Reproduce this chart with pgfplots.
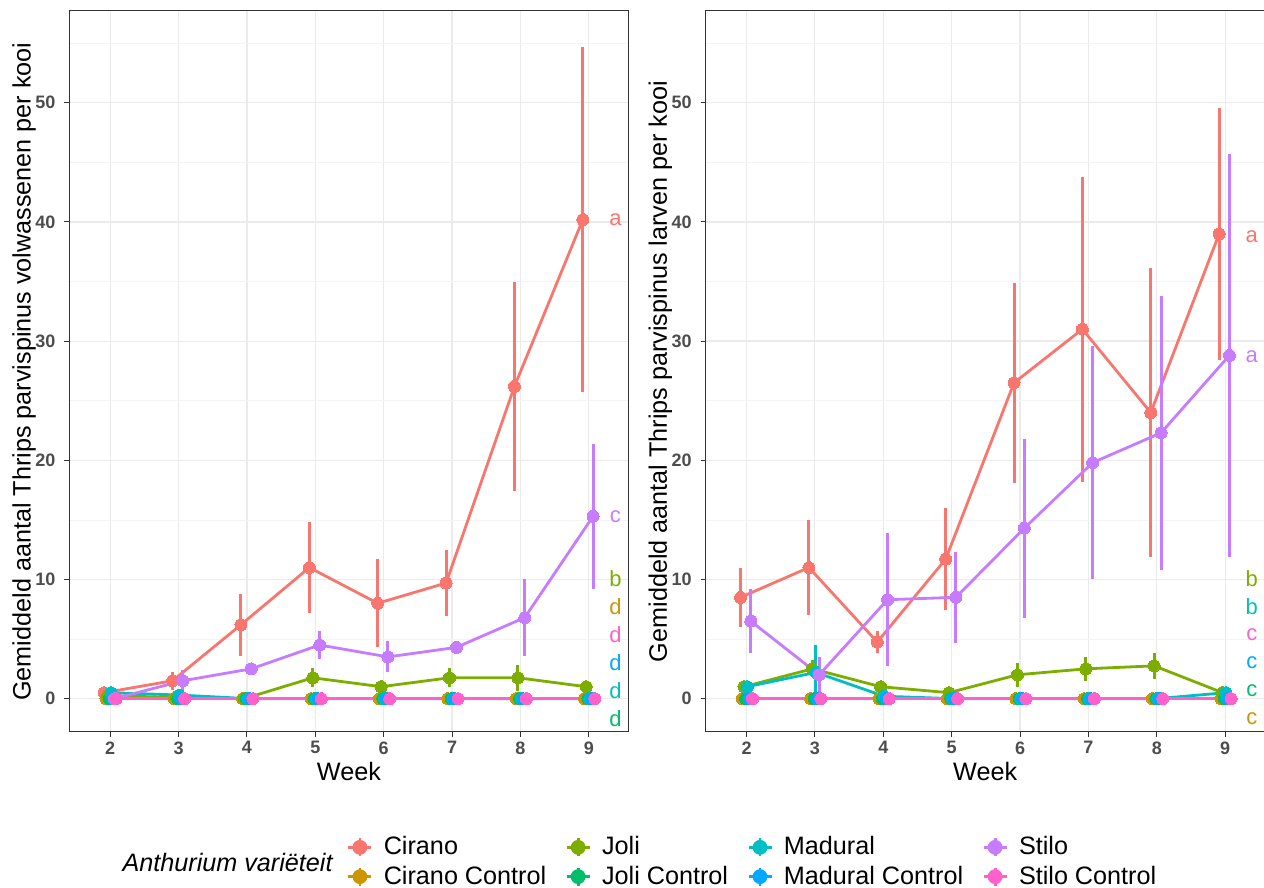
\documentclass[border=0pt]{standalone}
\usepackage{fontspec}
\setmainfont{Liberation Sans}
\usepackage{pgfplots}
\pgfplotsset{compat=1.18}
\definecolor{cCir}{HTML}{F8766D}
\definecolor{cCirC}{HTML}{CD9600}
\definecolor{cJol}{HTML}{7CAE00}
\definecolor{cJolC}{HTML}{00BE67}
\definecolor{cMad}{HTML}{00BFC4}
\definecolor{cMadC}{HTML}{00A9FF}
\definecolor{cSti}{HTML}{C77CFF}
\definecolor{cStiC}{HTML}{FF61CC}
\definecolor{gridmaj}{HTML}{EBEBEB}
\definecolor{gridmin}{HTML}{F4F4F4}
\definecolor{tickcol}{HTML}{4D4D4D}
\definecolor{bordercol}{HTML}{333333}
\tikzset{lett/.style={font=\fontsize{11}{12}\selectfont, text=#1, anchor=center}}
\pgfplotsset{
  panel/.style={
    anchor=south west, scale only axis,
    width=279.5pt, height=360.5pt,
    xmin=1.403, xmax=9.579, ymin=-2.8, ymax=57.7,
    xtick={2,3,4,5,6,7,8,9},
    ytick={0,10,20,30,40,50},
    minor ytick={5,15,25,35,45,55},
    grid=both,
    major grid style={gridmaj, line width=0.6pt},
    minor grid style={gridmin, line width=0.35pt},
    axis line style={bordercol, line width=0.5pt},
    tick align=outside, xtick pos=bottom, ytick pos=left,
    major tick length=2.6pt, minor tick length=0pt,
    tick style={bordercol, line width=0.5pt},
    /pgf/number format/assume math mode=true,
    ticklabel style={font=\bfseries\fontsize{9}{10}\selectfont, text=tickcol},
    xticklabel style={inner sep=0pt, yshift=-2pt},
    yticklabel style={inner sep=0pt, xshift=-4.2pt},
    label style={font=\fontsize{12.6}{14}\selectfont},
    xlabel style={at={(axis description cs:0.5,-0.055)}, anchor=center},
    ylabel style={at={(axis description cs:-0.081,0.5)}, anchor=center},
    clip=false,
    legend image code/.code={
      \draw[line width=1.4pt] (0pt,0pt) -- (11.5pt,0pt);
      \draw[line width=1.4pt] (5.75pt,-4.5pt) -- (5.75pt,4.5pt);
      \fill (5.75pt,0pt) circle (3pt);
    },
  },
  ser/.style={color=#1, solid, line width=1.4pt, mark=*, mark size=3pt,
    mark options={solid, fill=#1, draw=#1, line width=0pt},
    error bars/.cd, y dir=both, y explicit, error mark=none,
    error bar style={solid, line width=1.5pt, color=#1}},
}
\begin{document}
\begin{tikzpicture}
\useasboundingbox (0,0) rectangle (632pt,444pt);
% ---------------- Left panel: adults ----------------
\begin{axis}[panel, at={(34.7pt,78pt)},
  xlabel={Week},
  ylabel={Gemiddeld aantal Thrips parvispinus volwassenen per kooi},
  legend columns=2, transpose legend, legend cell align=left,
  legend style={draw=none, fill=none, inner sep=0pt, outer sep=0pt,
    at={(axis description cs:0.4966,-0.1803)}, anchor=west,
    row sep=4pt,
    nodes={inner sep=0pt, font=\fontsize{12.6}{14}\selectfont},
    /tikz/every odd column/.append style={column sep=5.5pt},
    /tikz/every even column/.append style={column sep=9.5pt}},
]
\addplot[ser=cCir] coordinates {
 (1.9125,0.5) +- (0,0.3)
 (2.9125,1.5) +- (0,0.75)
 (3.9125,6.2) +- (0,2.6)
 (4.9125,11.0) +- (0,3.8)
 (5.9125,8.0) +- (0,3.7)
 (6.9125,9.7) +- (0,2.8)
 (7.9125,26.2) +- (0,8.8)
 (8.9125,40.2) +- (0,14.5)};
\addlegendentry{Cirano}
\addplot[ser=cCirC] coordinates {
 (1.9375,0) +- (0,0) (2.9375,0) +- (0,0) (3.9375,0) +- (0,0) (4.9375,0) +- (0,0)
 (5.9375,0) +- (0,0) (6.9375,0) +- (0,0) (7.9375,0) +- (0,0) (8.9375,0) +- (0,0)};
\addlegendentry{Cirano Control}
\addplot[ser=cJol] coordinates {
 (1.9625,0.25) +- (0,0.15)
 (2.9625,0.1) +- (0,0.1)
 (3.9625,0) +- (0,0)
 (4.9625,1.75) +- (0,0.8)
 (5.9625,1.0) +- (0,0.55)
 (6.9625,1.75) +- (0,0.8)
 (7.9625,1.75) +- (0,1.1)
 (8.9625,1.0) +- (0,0)};
\addlegendentry{Joli}
\addplot[ser=cJolC] coordinates {
 (1.9875,0) +- (0,0) (2.9875,0) +- (0,0) (3.9875,0) +- (0,0) (4.9875,0) +- (0,0)
 (5.9875,0) +- (0,0) (6.9875,0) +- (0,0) (7.9875,0) +- (0,0) (8.9875,0) +- (0,0)};
\addlegendentry{Joli Control}
\addplot[ser=cMad] coordinates {
 (2.0125,0.5) +- (0,0.2)
 (3.0125,0.3) +- (0,0.2)
 (4.0125,0) +- (0,0) (5.0125,0) +- (0,0) (6.0125,0) +- (0,0)
 (7.0125,0) +- (0,0) (8.0125,0) +- (0,0) (9.0125,0) +- (0,0)};
\addlegendentry{Madural}
\addplot[ser=cMadC] coordinates {
 (2.0375,0) +- (0,0) (3.0375,0) +- (0,0) (4.0375,0) +- (0,0) (5.0375,0) +- (0,0)
 (6.0375,0) +- (0,0) (7.0375,0) +- (0,0) (8.0375,0) +- (0,0) (9.0375,0) +- (0,0)};
\addlegendentry{Madural Control}
\addplot[ser=cSti] coordinates {
 (2.0625,0) +- (0,0)
 (3.0625,1.5) +- (0,0.9)
 (4.0625,2.5) +- (0,0.2)
 (5.0625,4.5) +- (0,1.2)
 (6.0625,3.5) +- (0,1.3)
 (7.0625,4.3) +- (0,0.2)
 (8.0625,6.8) +- (0,3.2)
 (9.0625,15.3) +- (0,6.1)};
\addlegendentry{Stilo}
\addplot[ser=cStiC] coordinates {
 (2.0875,0) +- (0,0) (3.0875,0) +- (0,0) (4.0875,0) +- (0,0) (5.0875,0) +- (0,0)
 (6.0875,0) +- (0,0) (7.0875,0) +- (0,0) (8.0875,0) +- (0,0) (9.0875,0) +- (0,0)};
\addlegendentry{Stilo Control}
\node[lett=cCir]  at (axis cs:9.39,40.2) {a};
\node[lett=cSti]  at (axis cs:9.39,15.3) {c};
\node[lett=cJol]  at (axis cs:9.39,10.1) {b};
\node[lett=cCirC] at (axis cs:9.39,7.7) {d};
\node[lett=cStiC] at (axis cs:9.39,5.4) {d};
\node[lett=cMadC] at (axis cs:9.39,3.0) {d};
\node[lett=cMad]  at (axis cs:9.39,0.67) {d};
\node[lett=cJolC] at (axis cs:9.39,-1.7) {d};
\end{axis}
% ---------------- Right panel: larvae ----------------
\begin{axis}[panel, at={(352.85pt,78pt)},
  xlabel={Week},
  ylabel={Gemiddeld aantal Thrips parvispinus larven per kooi},
]
\addplot[ser=cCir] coordinates {
 (1.9125,8.5) +- (0,2.5)
 (2.9125,11.0) +- (0,4.0)
 (3.9125,4.75) +- (0,0.9)
 (4.9125,11.7) +- (0,4.3)
 (5.9125,26.5) +- (0,8.4)
 (6.9125,31.0) +- (0,12.8)
 (7.9125,24.0) +- (0,12.1)
 (8.9125,39.0) +- (0,10.6)};
\addplot[ser=cCirC] coordinates {
 (1.9375,0) +- (0,0) (2.9375,0) +- (0,0) (3.9375,0) +- (0,0) (4.9375,0) +- (0,0)
 (5.9375,0) +- (0,0) (6.9375,0) +- (0,0) (7.9375,0) +- (0,0) (8.9375,0) +- (0,0)};
\addplot[ser=cJol] coordinates {
 (1.9625,1.0) +- (0,0.2)
 (2.9625,2.5) +- (0,0.7)
 (3.9625,1.0) +- (0,0.5)
 (4.9625,0.5) +- (0,0.2)
 (5.9625,2.0) +- (0,1.0)
 (6.9625,2.5) +- (0,1.0)
 (7.9625,2.75) +- (0,1.1)
 (8.9625,0.5) +- (0,0.1)};
\addplot[ser=cJolC] coordinates {
 (1.9875,0) +- (0,0) (2.9875,0) +- (0,0) (3.9875,0) +- (0,0) (4.9875,0) +- (0,0)
 (5.9875,0) +- (0,0) (6.9875,0) +- (0,0) (7.9875,0) +- (0,0) (8.9875,0) +- (0,0)};
\addplot[ser=cMad] coordinates {
 (2.0125,1.0) +- (0,0.2)
 (3.0125,2.2) +- (0,2.3)
 (4.0125,0.2) +- (0,0.1)
 (5.0125,0) +- (0,0) (6.0125,0) +- (0,0) (7.0125,0) +- (0,0) (8.0125,0) +- (0,0)
 (9.0125,0.5) +- (0,0.5)};
\addplot[ser=cMadC] coordinates {
 (2.0375,0) +- (0,0) (3.0375,0) +- (0,0) (4.0375,0) +- (0,0) (5.0375,0) +- (0,0)
 (6.0375,0) +- (0,0) (7.0375,0) +- (0,0) (8.0375,0) +- (0,0) (9.0375,0) +- (0,0)};
\addplot[ser=cSti] coordinates {
 (2.0625,6.5) +- (0,2.7)
 (3.0625,2.0) +- (0,1.5)
 (4.0625,8.3) +- (0,5.6)
 (5.0625,8.5) +- (0,3.8)
 (6.0625,14.3) +- (0,7.5)
 (7.0625,19.8) +- (0,9.8)
 (8.0625,22.3) +- (0,11.5)
 (9.0625,28.8) +- (0,16.9)};
\addplot[ser=cStiC] coordinates {
 (2.0875,0) +- (0,0) (3.0875,0) +- (0,0) (4.0875,0) +- (0,0) (5.0875,0) +- (0,0)
 (6.0875,0) +- (0,0) (7.0875,0) +- (0,0) (8.0875,0) +- (0,0) (9.0875,0) +- (0,0)};
\node[lett=cCir]  at (axis cs:9.39,38.8) {a};
\node[lett=cSti]  at (axis cs:9.39,28.7) {a};
\node[lett=cJol]  at (axis cs:9.39,10.1) {b};
\node[lett=cMad]  at (axis cs:9.39,7.7) {b};
\node[lett=cStiC] at (axis cs:9.39,5.4) {c};
\node[lett=cMadC] at (axis cs:9.39,3.0) {c};
\node[lett=cJolC] at (axis cs:9.39,0.67) {c};
\node[lett=cCirC] at (axis cs:9.39,-1.7) {c};
\end{axis}
\node[anchor=east, inner sep=0pt, font=\itshape\fontsize{12.6}{14}\selectfont] at (166.5pt,13pt) {Anthurium variëteit};
\end{tikzpicture}
\end{document}
